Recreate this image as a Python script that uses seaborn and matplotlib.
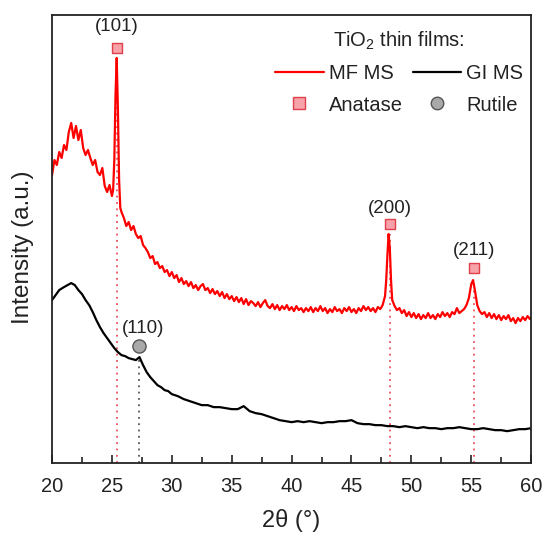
import matplotlib
matplotlib.use("Agg")
import matplotlib.pyplot as plt
from matplotlib.lines import Line2D
from matplotlib.ticker import MultipleLocator
import seaborn as sns
import pandas as pd

# ---------------- data ----------------
mf_x = [20.0, 20.2, 20.4, 20.6, 20.8, 21.0, 21.2, 21.4, 21.6, 21.8, 22.0, 22.2, 22.4, 22.6, 22.8,
        23.0, 23.2, 23.4, 23.6, 23.8, 24.0, 24.2, 24.4, 24.6, 24.8, 25.0, 25.1, 25.2, 25.3, 25.4,
        25.5, 25.6, 25.7, 25.8, 26.0, 26.2, 26.4, 26.6, 26.8, 27.0, 27.2, 27.4, 27.6, 27.8, 28.0,
        28.2, 28.4, 28.6, 28.8, 29.0, 29.2, 29.4, 29.6, 29.8, 30.0, 30.2, 30.4, 30.6, 30.8, 31.0,
        31.2, 31.4, 31.6, 31.8, 32.0, 32.2, 32.4, 32.6, 32.8, 33.0, 33.2, 33.4, 33.6, 33.8, 34.0,
        34.2, 34.4, 34.6, 34.8, 35.0, 35.2, 35.4, 35.6, 35.8, 36.0, 36.2, 36.4, 36.6, 36.8, 37.0,
        37.2, 37.4, 37.6, 37.8, 38.0, 38.2, 38.4, 38.6, 38.8, 39.0, 39.2, 39.4, 39.6, 39.8, 40.0,
        40.2, 40.4, 40.6, 40.8, 41.0, 41.2, 41.4, 41.6, 41.8, 42.0, 42.2, 42.4, 42.6, 42.8, 43.0,
        43.2, 43.4, 43.6, 43.8, 44.0, 44.2, 44.4, 44.6, 44.8, 45.0, 45.2, 45.4, 45.6, 45.8, 46.0,
        46.2, 46.4, 46.6, 46.8, 47.0, 47.2, 47.4, 47.6, 47.8, 47.9, 48.0, 48.1, 48.2, 48.3, 48.4,
        48.6, 48.8, 49.0, 49.2, 49.4, 49.6, 49.8, 50.0, 50.2, 50.4, 50.6, 50.8, 51.0, 51.2, 51.4,
        51.6, 51.8, 52.0, 52.2, 52.4, 52.6, 52.8, 53.0, 53.2, 53.4, 53.6, 53.8, 54.0, 54.2, 54.4,
        54.6, 54.8, 55.0, 55.15, 55.3, 55.5, 55.7, 55.9, 56.1, 56.3, 56.5, 56.7, 56.9, 57.1, 57.3,
        57.5, 57.7, 57.9, 58.1, 58.3, 58.5, 58.7, 58.9, 59.1, 59.3, 59.5, 59.7, 59.9, 60.0]
mf_y = [288, 303, 298, 311, 305, 318, 313, 331, 340, 325, 337, 323, 333, 315, 308,
        313, 305, 298, 303, 291, 288, 295, 277, 271, 278, 267, 273, 303, 368, 405,
        353, 283, 255, 251, 245, 237, 241, 233, 237, 229, 225, 227, 218, 215, 211,
        205, 207, 199, 201, 195, 197, 191, 193, 187, 191, 185, 188, 181, 185, 179,
        182, 177, 181, 175, 178, 173, 177, 179, 173, 175, 170, 174, 169, 172, 167,
        171, 165, 169, 164, 167, 162, 166, 161, 165, 159, 164, 158, 162, 160, 157,
        161, 156, 160, 163, 157, 155, 159, 154, 158, 153, 157, 154, 158, 153, 156,
        152, 157, 153, 155, 151, 155, 152, 156, 151, 155, 152, 157, 152, 155, 150,
        154, 151, 156, 152, 154, 150, 155, 152, 156, 151, 154, 150, 155, 152, 157,
        153, 156, 152, 155, 151, 156, 154, 158, 167, 183, 208, 229, 215, 183, 163,
        157, 153, 155, 150, 153, 147, 151, 146, 150, 145, 149, 144, 148, 145, 150,
        145, 148, 144, 149, 146, 151, 147, 150, 146, 151, 149, 155, 150, 152, 154,
        158, 165, 179, 183, 173, 158, 152, 149, 151, 146, 150, 145, 149, 144, 148,
        143, 147, 144, 148, 142, 145, 140, 145, 142, 146, 143, 147, 144, 146]

gi_x = [20.0, 20.3, 20.6, 21.0, 21.3, 21.6, 21.9, 22.2, 22.5, 22.8, 23.1, 23.4, 23.7, 24.0, 24.3,
        24.6, 24.9, 25.2, 25.5, 25.8, 26.1, 26.4, 26.7, 27.0, 27.3, 27.6, 27.9, 28.2, 28.5, 28.8,
        29.1, 29.4, 29.7, 30.0, 30.5, 31.0, 31.5, 32.0, 32.5, 33.0, 33.5, 34.0, 34.5, 35.0, 35.5,
        36.0, 36.5, 37.0, 37.5, 38.0, 38.5, 39.0, 39.5, 40.0, 40.5, 41.0, 41.5, 42.0, 42.5, 43.0,
        43.5, 44.0, 44.5, 45.0, 45.5, 46.0, 46.5, 47.0, 47.5, 48.0, 48.5, 49.0, 49.5, 50.0, 50.5,
        51.0, 51.5, 52.0, 52.5, 53.0, 53.5, 54.0, 54.5, 55.0, 55.5, 56.0, 56.5, 57.0, 57.5, 58.0,
        58.5, 59.0, 59.5, 60.0]
gi_y = [163, 168, 173, 176, 178, 180, 178, 173, 169, 163, 158, 151, 143, 136, 130,
        125, 120, 115, 111, 108, 107, 105, 104, 103, 106, 98, 91, 86, 82, 78,
        76, 73, 72, 69, 67, 64, 62, 60, 58, 58, 56, 56, 55, 54, 54,
        57, 52, 50, 49, 47, 45, 43, 42, 41, 42, 41, 42, 41, 40, 41,
        41, 42, 42, 43, 40, 39, 39, 38, 38, 37, 37, 36, 37, 36, 35,
        36, 35, 35, 34, 35, 35, 36, 35, 34, 34, 35, 34, 33, 33, 32,
        33, 34, 34, 35]

anatase_x = [25.4, 48.2, 55.2]
anatase_y = [415, 239, 195]
anatase_peak = [405, 229, 183]
anatase_hkl = ["(101)", "(200)", "(211)"]
anatase_label_y = [436, 255, 213]

rutile_x = [27.3]
rutile_y = [117]
rutile_curve = [106]
rutile_hkl = ["(110)"]
rutile_label_x = [27.6]
rutile_label_y = [135]

series_names = ["MF MS", "GI MS"]
series_colors = ["#ff0000", "#000000"]
x_ticks = [20, 25, 30, 35, 40, 45, 50, 55, 60]

# ---------------- figure ----------------
sns.set_theme(style="white")
plt.rcParams["font.family"] = ["Liberation Sans", "DejaVu Sans"]
plt.rcParams["mathtext.fontset"] = "custom"
plt.rcParams["mathtext.rm"] = "Liberation Sans"
plt.rcParams["mathtext.it"] = "Liberation Sans:italic"

df = pd.concat([
    pd.DataFrame({"x": mf_x, "y": mf_y, "sample": series_names[0]}),
    pd.DataFrame({"x": gi_x, "y": gi_y, "sample": series_names[1]}),
], ignore_index=True)

fig = plt.figure(figsize=(5.42, 5.33), dpi=100)
ax = fig.add_axes([0.096, 0.131, 0.884, 0.841])

# dotted guide lines (drawn first so curves sit on top)
ax.vlines(anatase_x, 0, anatase_peak, colors="#e8505a", linestyles=(0, (1, 2.5)), lw=1.3, zorder=1)
ax.vlines(rutile_x, 0, rutile_curve, colors="#555555", linestyles=(0, (1, 2.5)), lw=1.3, zorder=1)

sns.lineplot(data=df, x="x", y="y", hue="sample", palette=series_colors, hue_order=series_names,
             estimator=None, sort=False, lw=1.6, ax=ax, legend=False, zorder=2)

ax.scatter(anatase_x, anatase_y, marker="s", s=60, facecolor="#f7a1a8", edgecolor="#e0404a",
           linewidth=1.0, zorder=3)
ax.scatter(rutile_x, rutile_y, marker="o", s=90, facecolor="#a9a9a9", edgecolor="#555555",
           linewidth=1.0, zorder=3)
for xx, yy, t in zip(anatase_x, anatase_label_y, anatase_hkl):
    ax.text(xx, yy, t, ha="center", va="center", fontsize=13.5, color="#222222")
for xx, yy, t in zip(rutile_label_x, rutile_label_y, rutile_hkl):
    ax.text(xx, yy, t, ha="center", va="center", fontsize=13.5, color="#222222")

ax.set_xlim(20, 60)
ax.set_ylim(0, 448)
ax.xaxis.set_major_locator(MultipleLocator(5))
ax.xaxis.set_minor_locator(MultipleLocator(2.5))
ax.set_xticks(x_ticks)
ax.set_xticklabels([str(t) for t in x_ticks])
ax.set_yticks([])
ax.tick_params(axis="x", which="major", direction="in", length=6, width=1.2, labelsize=14.5,
               pad=10, bottom=True, colors="#222222")
ax.tick_params(axis="x", which="minor", direction="in", length=4, width=1.2, bottom=True,
               colors="#222222")
for s in ax.spines.values():
    s.set_color("#222222")
    s.set_linewidth(1.3)

ax.set_xlabel("2θ (°)", fontsize=17, labelpad=9, color="#222222")
ax.set_ylabel("Intensity (a.u.)", fontsize=17.5, color="#222222")
ax.yaxis.set_label_coords(-0.038, 0.482)

handles = [
    Line2D([], [], color=series_colors[0], lw=1.6),
    Line2D([], [], marker="s", ls="none", markersize=8, markerfacecolor="#f7a1a8",
           markeredgecolor="#e0404a"),
    Line2D([], [], color=series_colors[1], lw=1.6),
    Line2D([], [], marker="o", ls="none", markersize=9, markerfacecolor="#a9a9a9",
           markeredgecolor="#555555"),
]
labels = [series_names[0], "Anatase", series_names[1], "Rutile"]
leg = ax.legend(handles, labels, ncol=2, title="TiO$_2$ thin films:", frameon=False,
                loc="upper right", bbox_to_anchor=(1.0, 0.986), fontsize=14.5,
                title_fontsize=14.5, handlelength=2.4, handletextpad=0.25,
                columnspacing=0.5, labelspacing=0.62, borderaxespad=0.0)
for t in leg.get_texts():
    t.set_color("#222222")
leg.get_title().set_color("#222222")

fig.savefig("out.png", dpi=100)
